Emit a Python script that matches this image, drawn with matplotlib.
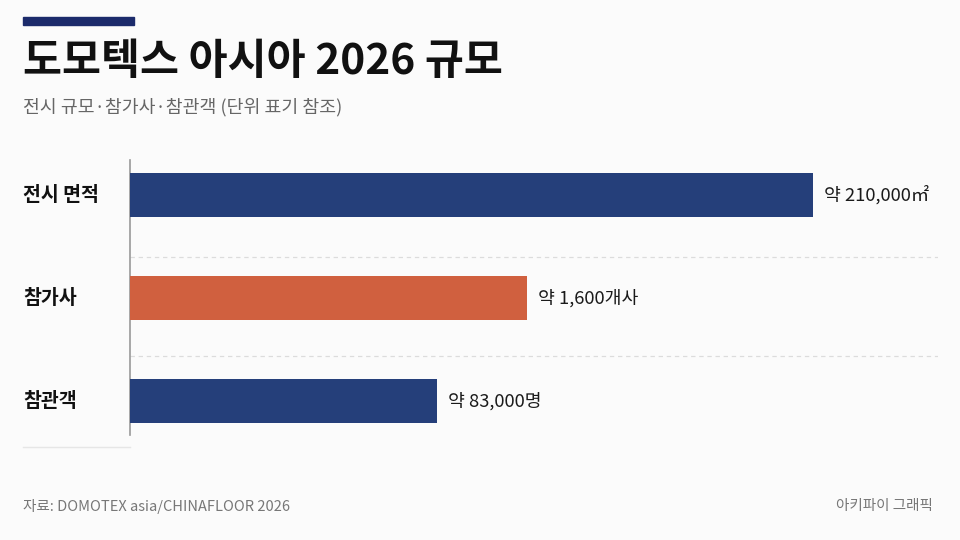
import matplotlib
matplotlib.use('Agg')
import matplotlib.pyplot as plt

plt.rcParams['font.family'] = ['Noto Sans CJK KR', 'DejaVu Sans']

# 데이터 (단위가 서로 달라서 막대 길이는 그림에서 읽은 상대 지수)
categories = ['전시 면적', '참가사', '참관객']
value_labels = ['약 210,000㎡', '약 1,600개사', '약 83,000명']
bar_index = [100, 58.1, 44.9]
bar_colors = ['#253f7a', '#d0603f', '#253f7a']

title = '도모텍스 아시아 2026 규모'
subtitle = '전시 규모·참가사·참관객 (단위 표기 참조)'
source = '자료: DOMOTEX asia/CHINAFLOOR 2026'
credit = '아키파이 그래픽'

bg = '#fbfbfb'
W, H = 960, 540

fig = plt.figure(figsize=(9.6, 5.4), dpi=100, facecolor=bg)

# 플롯 영역 (픽셀 위치 기준)
ax = fig.add_axes([130 / W, (H - 435) / H, 808 / W, 275 / H])
ax.set_facecolor(bg)

ypos = list(range(len(categories)))
ax.barh(ypos, bar_index, height=0.43, color=bar_colors, zorder=3)
ax.set_xlim(0, 118.3)
ax.set_ylim(2.33, -0.34)

for y, v, lab in zip(ypos, bar_index, value_labels):
    ax.annotate(lab, (v, y), xytext=(8, 0), textcoords='offset points',
                ha='left', va='center', fontsize=13.2, color='#1a1a1a')
    ax.annotate(categories[y], (0, y), xytext=(-(130 - 23) * 0.72, 0),
                textcoords='offset points', ha='left', va='center',
                fontsize=14, fontweight='bold', color='#111111')

# 막대 사이 점선
for y in [0.6, 1.56]:
    ax.axhline(y, color='#dcdcdc', lw=0.9, ls=(0, (3.5, 3)), zorder=1)

for s in ['top', 'right', 'bottom']:
    ax.spines[s].set_visible(False)
ax.spines['left'].set_color('#999999')
ax.spines['left'].set_linewidth(1.2)
ax.set_xticks([])
ax.set_yticks([])

# 상단 강조 막대
fig.patches.append(plt.Rectangle((23 / W, (H - 25) / H), 111 / W, 8 / H,
                                 transform=fig.transFigure, color='#1c2b6b'))

fig.text(23 / W, (H - 62) / H, title, fontsize=30.5, fontweight='heavy',
         color='#111111', ha='left', va='center')
fig.text(23 / W, (H - 107) / H, subtitle, fontsize=13.2, color='#666666',
         ha='left', va='center')

# 왼쪽 아래 짧은 선
fig.add_artist(plt.Line2D([23 / W, 130 / W], [(H - 447) / H] * 2,
                          transform=fig.transFigure, color='#e6e6e6', lw=1))

fig.text(23 / W, (H - 506) / H, source, fontsize=10.5, color='#777777',
         ha='left', va='center')
fig.text(933 / W, (H - 506) / H, credit, fontsize=10.5, color='#777777',
         ha='right', va='center')

fig.savefig('out.png', dpi=100, facecolor=bg)
